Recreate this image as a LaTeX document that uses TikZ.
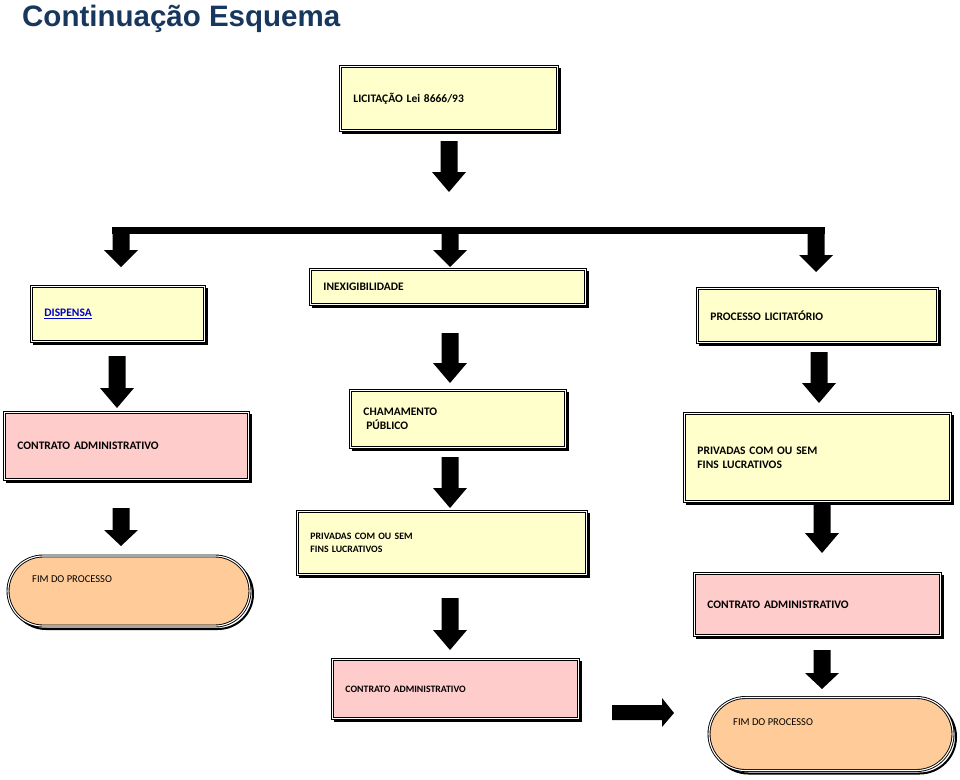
\documentclass[tikz,border=0pt]{standalone}
\usepackage{fontspec}
\setmainfont{Carlito}
\newfontfamily\titlefont{Liberation Sans}
\usetikzlibrary{shapes.misc,shadows}
\definecolor{boxyellow}{RGB}{255,255,204}
\definecolor{boxpink}{RGB}{255,204,204}
\definecolor{boxorange}{RGB}{255,204,153}
\definecolor{titleblue}{RGB}{23,55,94}
\definecolor{linkblue}{RGB}{0,0,204}
% block arrow pointing down: x, ytop, ytip, head length
\newcommand\blkdown[4]{\fill[black] ({#1-8.5},#2) -- ({#1+8.5},#2) -- ({#1+8.5},{#3-#4}) -- ({#1+17},{#3-#4}) -- (#1,#3) -- ({#1-17},{#3-#4}) -- ({#1-8.5},{#3-#4}) -- cycle;}
\begin{document}
\begin{tikzpicture}[x=1pt,y=-1pt,
  frame/.style={draw=black, line width=0.9pt, double=white, double distance=1.1pt,
    general shadow={shadow xshift=3pt, shadow yshift=-3pt, fill=white, draw=black, line width=2pt}},
  box/.style={frame, rectangle, anchor=north west, inner xsep=13pt, inner ysep=0pt, align=left,
    font=\bfseries\fontsize{11.5}{14}\selectfont},
  smallbox/.style={box, font=\bfseries\fontsize{9.8}{12.8}\selectfont},
  stadium/.style={frame, rounded rectangle, anchor=center, fill=boxorange, inner sep=0pt},
  fimtext/.style={anchor=west, inner sep=0pt, font=\fontsize{10.5}{12}\selectfont}
]
\useasboundingbox[fill=white] (0,0) rectangle (960,779);

\node[anchor=base west, inner sep=0pt, text=titleblue, font=\titlefont\bfseries\fontsize{29.5}{32}\selectfont] (title) at (22,27) {Continuação Esquema};

% boxes
\node[box, fill=boxyellow, minimum width=217pt, minimum height=64pt, text width=191pt] (lic) at (340,66) {LICITAÇÃO Lei 8666/93};
\node[box, fill=boxyellow, minimum width=173pt, minimum height=55pt, text width=147pt] (disp) at (31,286) {\textcolor{linkblue}{\underline{DISPENSA}}};
\node[box, fill=boxyellow, minimum width=275pt, minimum height=35pt, text width=249pt] (inex) at (310,269) {INEXIGIBILIDADE};
\node[box, fill=boxyellow, minimum width=240pt, minimum height=54pt, text width=214pt] (proc) at (697,288) {PROCESSO LICITATÓRIO};
\node[box, fill=boxpink, minimum width=244pt, minimum height=67pt, text width=218pt] (contL) at (4,412) {CONTRATO ADMINISTRATIVO};
\node[box, fill=boxyellow, minimum width=215pt, minimum height=57pt, text width=189pt] (cham) at (350,390) {CHAMAMENTO\\\hspace*{0.25em}PÚBLICO};
\node[box, fill=boxyellow, minimum width=266pt, minimum height=88pt, text width=240pt] (privR) at (684,413) {PRIVADAS COM OU SEM\\FINS LUCRATIVOS};
\node[smallbox, fill=boxyellow, minimum width=289pt, minimum height=63pt, text width=263pt] (privM) at (297,511) {PRIVADAS COM OU SEM\\FINS LUCRATIVOS};
\node[box, fill=boxpink, minimum width=246pt, minimum height=62pt, text width=220pt] (contR) at (694,573) {CONTRATO ADMINISTRATIVO};
\node[smallbox, fill=boxpink, minimum width=246pt, minimum height=59pt, text width=220pt] (contM) at (332,659) {CONTRATO ADMINISTRATIVO};

\node[stadium, minimum width=242pt, minimum height=70pt] (fimL) at (129,591) {};
\node[fimtext] (fimLt) at (32,579) {FIM DO PROCESSO};
\node[stadium, minimum width=244pt, minimum height=73pt] (fimR) at (831,734) {};
\node[fimtext] (fimRt) at (733,722) {FIM DO PROCESSO};

% block arrows
\blkdown{449}{141}{192}{20}
\fill[black] (112,227) rectangle (825,234);
\blkdown{121}{230}{267}{17}
\blkdown{450}{230}{267}{17}
\blkdown{816}{230}{272}{17}
\blkdown{117}{356}{408}{20}
\blkdown{450}{333}{383}{20}
\blkdown{819}{352}{403}{20}
\blkdown{121}{508}{546}{16}
\blkdown{450}{457}{508}{20}
\blkdown{822}{503}{553}{20}
\blkdown{450}{598}{650}{20}
\blkdown{822}{650}{689}{16}
\fill[black] (612,705) -- (662,705) -- (662,698) -- (674,713) -- (662,727) -- (662,720) -- (612,720) -- cycle;
\end{tikzpicture}
\end{document}
